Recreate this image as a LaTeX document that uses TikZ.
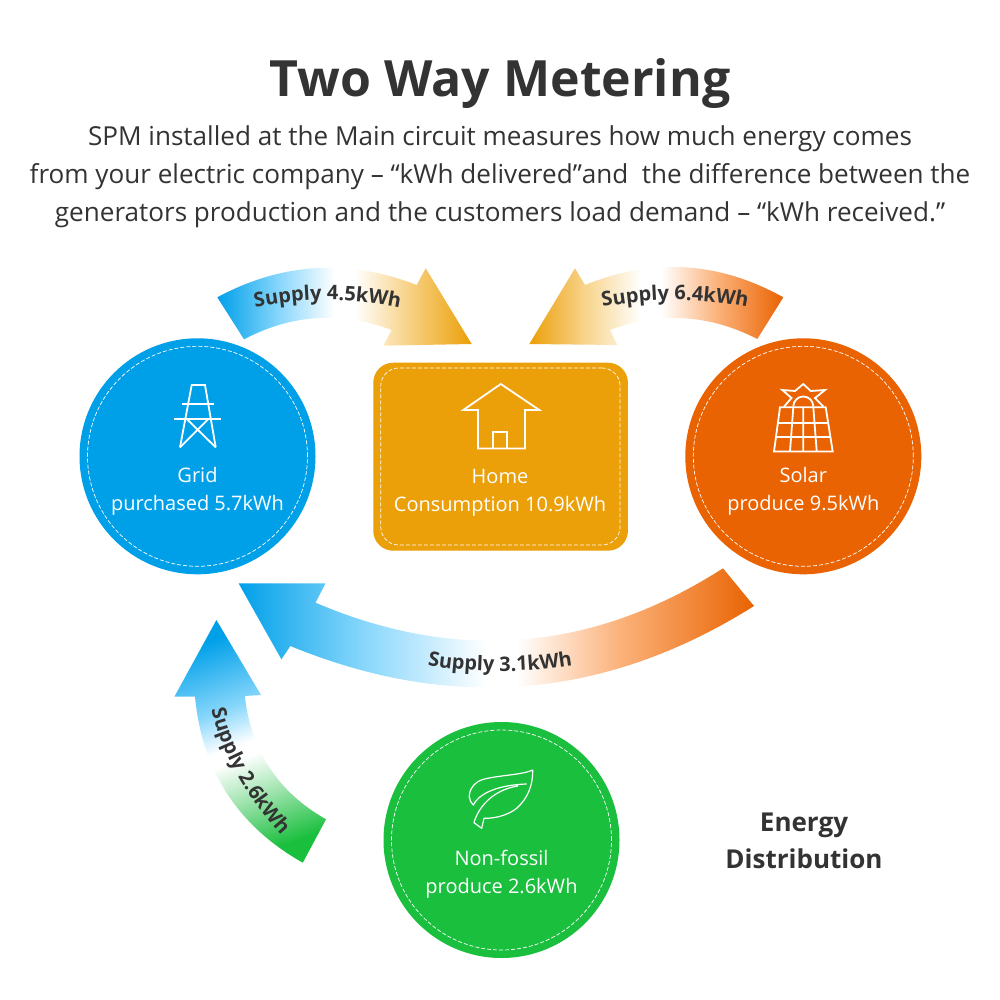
\documentclass[tikz,border=0pt]{standalone}
\usepackage{fontspec}
\setmainfont{Open Sans}
\usetikzlibrary{decorations.text}
\definecolor{bluec}{HTML}{00A0E9}
\definecolor{bluem}{HTML}{86D6FB}
\definecolor{homec}{HTML}{EB9F08}
\definecolor{homem}{HTML}{F8D48C}
\definecolor{solarc}{HTML}{E96302}
\definecolor{solarm}{HTML}{FBB27A}
\definecolor{greenc}{HTML}{1ABF3E}
\definecolor{greenm}{HTML}{9AE2AA}
\definecolor{ink}{HTML}{333333}
\pgfdeclarehorizontalshading{bluehome}{100bp}{color(0bp)=(bluec);color(25bp)=(bluec);color(37bp)=(bluem);color(48bp)=(white);color(52bp)=(white);color(62bp)=(homem);color(75bp)=(homec);color(100bp)=(homec)}
\pgfdeclarehorizontalshading{homesolar}{100bp}{color(0bp)=(homec);color(25bp)=(homec);color(36bp)=(homem);color(47bp)=(white);color(51bp)=(white);color(62bp)=(solarm);color(75bp)=(solarc);color(100bp)=(solarc)}
\pgfdeclarehorizontalshading{bluesolar}{100bp}{color(0bp)=(bluec);color(25bp)=(bluec);color(37bp)=(bluem);color(49bp)=(white);color(52bp)=(white);color(62bp)=(solarm);color(75bp)=(solarc);color(100bp)=(solarc)}
\pgfdeclareverticalshading{greenblue}{100bp}{color(0bp)=(greenc);color(25bp)=(greenc);color(37bp)=(greenm);color(47bp)=(white);color(50bp)=(white);color(59bp)=(bluem);color(75bp)=(bluec);color(100bp)=(bluec)}
\tikzset{
  x=1pt,y=-1pt,
  base text/.style={anchor=base,inner sep=0pt,outer sep=0pt},
  title text/.style={base text,font=\bfseries\fontsize{50}{50}\selectfont,text=ink},
  body text/.style={base text,font=\fontsize{26.1}{26.1}\selectfont,text=ink},
  label text/.style={base text,font=\fontsize{20}{20}\selectfont,text=white},
  side text/.style={base text,font=\bfseries\fontsize{26}{26}\selectfont,text=ink},
  disc/.style={circle,inner sep=0pt,minimum size=236pt},
  disc line/.style={circle,inner sep=0pt,minimum size=220pt,draw=white,line width=.7pt,dash pattern=on 4pt off 2pt},
  iconline/.style={draw=white,line width=1.8pt,line join=miter},
  flowlabel/.style={decorate,decoration={text along path,text align=center,
     text={|\bfseries\fontsize{20}{20}\selectfont\color{ink}|#1}}},
}
\begin{document}
\begin{tikzpicture}
\useasboundingbox (0,0) rectangle (1000,1000);
\fill[white] (0,0) rectangle (1000,1000);
% heading
\node[title text] (title) at (500,96.5) {Two Way Metering};
\node[body text] (l1) at (500,146) {SPM installed at the Main circuit measures how much energy comes};
\node[body text] (l2) at (500,184) {from your electric company – “kWh delivered”and\ \ the difference between the};
\node[body text] (l3) at (500,222) {generators production and the customers load demand – “kWh received.”};
% flows
\shade[shading=bluehome]
  (217.3,297.3) .. controls (282,262.5) and (348.3,258.5) .. (416.7,285)
  -- (425.7,268.3) -- (471.7,344) -- (383.3,345.7) -- (391.7,330)
  .. controls (341.2,311) and (292,314.2) .. (244,339.3) -- cycle;
\shade[shading=homesolar]
  (783.3,297.3) .. controls (719,261.5) and (653,257.4) .. (585,285)
  -- (575,268.3) -- (529.3,344) -- (617.3,345) -- (610,330)
  .. controls (660,311.4) and (709.5,314.4) .. (757.3,339) -- cycle;
\shade[shading=bluesolar]
  (723,568.3) .. controls (593,651.6) and (457,663) .. (315.6,602.7)
  -- (325.4,583.3) -- (238.6,583.3) -- (281.4,659.3) -- (290.4,646)
  .. controls (451.8,712.4) and (606.4,699) .. (754,606) -- cycle;
\shade[shading=greenblue,shading angle=20]
  (302.8,862.7) .. controls (238,826) and (202,771) .. (195,696.7)
  -- (174.4,696.7) -- (216.4,620) -- (261,695) -- (244.8,696)
  .. controls (251,751) and (278,792) .. (326,819.3) -- cycle;
\path[flowlabel={Supply 4.5kWh}] (235,312) .. controls (300,296) and (355,296) .. (420,312);
\path[flowlabel={Supply 6.4kWh}] (580,312) .. controls (645,296) and (705,296) .. (770,312);
\path[flowlabel={Supply 3.1kWh}] (400,660) .. controls (465,675) and (535,675) .. (600,660);
\path[flowlabel={Supply 2.6kWh}] (208,690) .. controls (215,745) and (245,800) .. (295,850);
% grid
\node[disc,fill=bluec] (grid) at (197.5,456.3) {};
\node[disc line] (gridring) at (197.5,456.3) {};
\node[label text] (gridA) at (197.5,482) {Grid};
\node[label text] (gridB) at (197.5,510) {purchased 5.7kWh};
\draw[iconline] (180,447.3) -- (191.7,385) -- (205,385) -- (215.7,447.3);
\draw[iconline] (182.3,404) -- (214,404) (174,419) -- (221,419);
\draw[iconline] (186.7,419) -- (215.7,447.3) (208.3,419) -- (180,447.3);
% home
\node[fill=homec,rounded corners=20pt,minimum width=254.7pt,minimum height=188pt,inner sep=0pt] (home) at (500.6,456.7) {};
\node[draw=white,rounded corners=18pt,line width=.7pt,dash pattern=on 4pt off 2pt,minimum width=239.3pt,minimum height=177pt,inner sep=0pt] (homering) at (500.4,456.5) {};
\node[label text] (homeA) at (500,483) {Home};
\node[label text] (homeB) at (500,511) {Consumption 10.9kWh};
\draw[iconline] (478,410) -- (463.3,410) -- (500.8,384) -- (539.3,410) -- (525,410) -- (525,448.5) -- (478,448.5) -- cycle;
\draw[iconline] (492.7,448.5) -- (492.7,431.7) -- (507.3,431.7) -- (507.3,448.5);
% solar
\node[disc,fill=solarc] (solar) at (803.3,456.3) {};
\node[disc line] (solarring) at (803.3,456.3) {};
\node[label text] (solarA) at (803.3,482) {Solar};
\node[label text] (solarB) at (803.3,510) {produce 9.5kWh};
\draw[iconline] (780,407.3) -- (825.7,407.3) -- (832.7,451.5) -- (774,451.5) -- cycle;
\draw[iconline] (777.7,422.7) -- (828.2,422.7) (775.6,437.3) -- (830.4,437.3);
\draw[iconline] (793.3,407.3) -- (790,451.5) (803.3,407.3) -- (803.3,451.5) (813.3,407.3) -- (816.7,451.5);
\draw[iconline] (793.3,406.5) arc[start angle=180,end angle=360,radius=10];
\draw[iconline] (784,406.7) -- (791.5,398) -- (782.3,390) -- (795,391) -- (803.3,384) -- (810.7,391) -- (825,390) -- (815,398) -- (823.3,406.5);
% non-fossil
\node[disc,fill=greenc] (fossil) at (501.5,840) {};
\node[disc line] (fossilring) at (501.5,840) {};
\node[label text] (fossilA) at (501.5,865) {Non-fossil};
\node[label text] (fossilB) at (501.5,893) {produce 2.6kWh};
\draw[white,line width=1.2pt,line join=round]
  (532.7,770) .. controls (522,775) and (500,775) .. (483.3,779.3)
  .. controls (474,782) and (469,790) .. (469.3,796.7)
  .. controls (469.5,800) and (471,803) .. (473.3,805)
  .. controls (478,795) and (495,785) .. (526.7,784)
  (532.7,770) .. controls (533,785) and (528,798) .. (516.7,808.3)
  .. controls (508,815) and (496,818.5) .. (484,818.3)
  -- (481.7,828.3) -- (474,822.7)
  .. controls (478,808) and (492,790) .. (518,786);
% caption
\node[side text] (capA) at (804,831) {Energy};
\node[side text] (capB) at (804,868) {Distribution};
\end{tikzpicture}
\end{document}
